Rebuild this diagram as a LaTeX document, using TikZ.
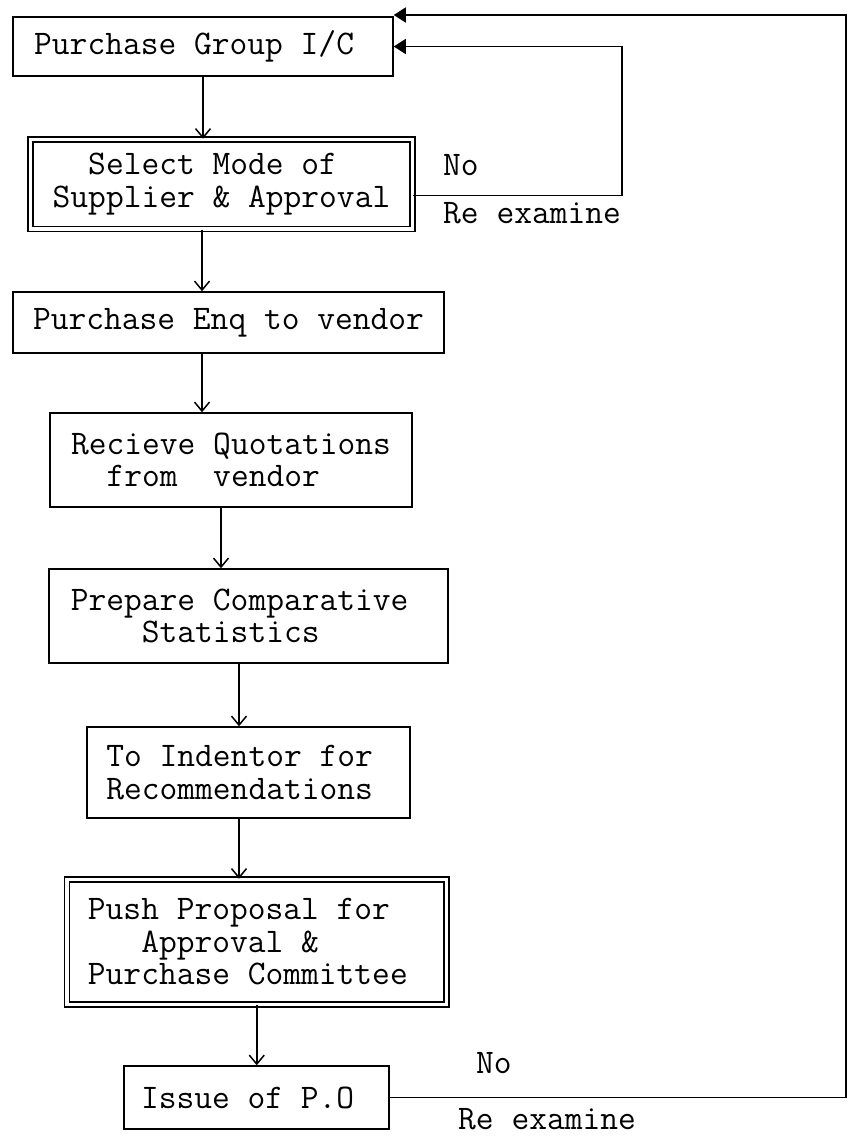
\documentclass[tikz,border=0pt]{standalone}
\usepackage{fontspec}
\usetikzlibrary{arrows.meta}

\begin{document}
\begin{tikzpicture}[x=1pt,y=-1pt,
  blk/.style={draw,line width=1.5pt,inner sep=0pt,align=left,
    font=\ttfamily\fontsize{34.5}{32.5}\selectfont},
  dblk/.style={blk,double,double distance=3.5pt},
  arr/.style={-{Straight Barb[length=9pt,width=15pt]},line width=1.5pt},
  back/.style={-{Triangle[length=12pt,width=15pt]},line width=1.5pt},
  lbl/.style={anchor=west,inner sep=0pt,font=\ttfamily\fontsize{34.5}{32.5}\selectfont}]
\useasboundingbox (0,0) rectangle (847,1140);
% boxes
\node[blk,minimum width=380pt,minimum height=59pt] (b1) at (203,46.5) {Purchase Group I/C\hphantom{x}};
\node[dblk,minimum width=382pt,minimum height=89.5pt] (b2) at (221.5,184.25) {\hphantom{xx}Select Mode of\\Supplier \& Approval};
\node[blk,minimum width=431pt,minimum height=61pt] (b3) at (228.5,322.5) {Purchase Enq to vendor};
\node[blk,minimum width=362pt,minimum height=94pt] (b4) at (231,460) {Recieve Quotations\\\hphantom{xx}from~~vendor};
\node[blk,minimum width=399pt,minimum height=94pt] (b5) at (248.5,616) {Prepare Comparative\hphantom{x}\\\hphantom{xxxx}Statistics};
\node[blk,minimum width=323pt,minimum height=91pt] (b6) at (248.5,772.5) {To Indentor for\hphantom{x}\\Recommendations\hphantom{x}};
\node[dblk,minimum width=379.5pt,minimum height=125pt] (b7) at (256.75,942) {Push Proposal for\\\hphantom{xxx}Approval \&\\Purchase Committee\hphantom{x}};
\node[blk,minimum width=265pt,minimum height=63pt] (b8) at (256.5,1097.5) {Issue of P.O\hphantom{x}};
% labels
\node[lbl] (no1) at (443,165) {No};
\node[lbl] (re1) at (443,213) {Re examine};
\node[lbl] (no2) at (476,1063) {No};
\node[lbl] (re2) at (458,1119) {Re examine};
\coordinate (r1) at (846,15);
\coordinate (r2) at (622,0);
% flow
\draw[arr] (b1.south) -- (b1.south |- b2.north);
\draw[arr] ([xshift=-19.5pt]b2.south) -- ([xshift=-19.5pt]b2.south |- b3.north);
\draw[arr] ([xshift=-26.5pt]b3.south) -- ([xshift=-26.5pt]b3.south |- b4.north);
\draw[arr] ([xshift=-10pt]b4.south) -- ([xshift=-10pt]b4.south |- b5.north);
\draw[arr] ([xshift=-9.5pt]b5.south) -- ([xshift=-9.5pt]b5.south |- b6.north);
\draw[arr] ([xshift=-9.5pt]b6.south) -- ([xshift=-9.5pt]b6.south |- b7.north);
\draw[arr] (b7.south) -- (b7.south |- b8.north);
% re examine loops
\draw[back] ([yshift=-11pt]b2.east) -| (r2 |- b1.east) -- (b1.east);
\draw[back] (b8.east) -| (r1) -- (r1 -| b1.east);
\end{tikzpicture}
\end{document}
